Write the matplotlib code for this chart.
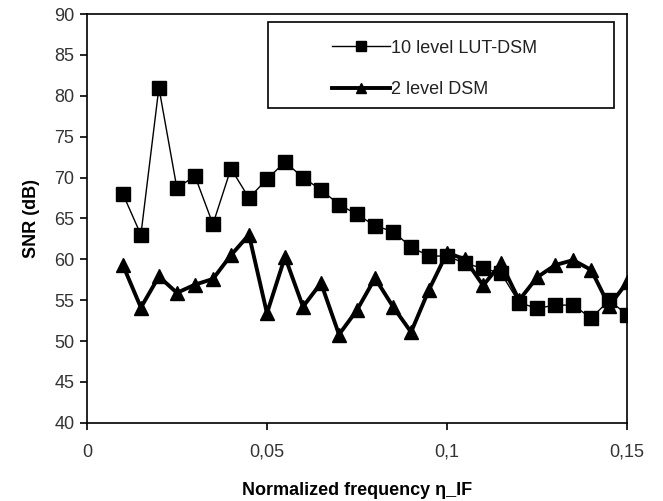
import matplotlib
matplotlib.use("Agg")
import matplotlib.pyplot as plt
from matplotlib.ticker import FuncFormatter, MultipleLocator
from matplotlib.patches import Rectangle

plt.rcParams['font.family'] = ['Liberation Sans', 'DejaVu Sans']

freq = [0.010, 0.015, 0.020, 0.025, 0.030, 0.035, 0.040, 0.045, 0.050, 0.055,
        0.060, 0.065, 0.070, 0.075, 0.080, 0.085, 0.090, 0.095, 0.100, 0.105,
        0.110, 0.115, 0.120, 0.125, 0.130, 0.135, 0.140, 0.145, 0.150]
snr_lut = [68.0, 63.0, 81.0, 68.7, 70.2, 64.3, 71.1, 67.5, 69.8, 71.9,
           70.0, 68.5, 66.7, 65.5, 64.1, 63.4, 61.5, 60.4, 60.4, 59.5,
           58.9, 58.3, 54.7, 54.0, 54.4, 54.4, 52.8, 55.0, 53.2]
snr_2lvl = [59.3, 54.1, 57.9, 55.9, 56.9, 57.6, 60.5, 63.0, 53.4, 60.3,
            54.2, 57.1, 50.8, 53.8, 57.7, 54.2, 51.1, 56.3, 60.8, 60.0,
            56.8, 59.5, 55.0, 57.8, 59.3, 59.9, 58.7, 54.3, 57.2]
label_lut = "10 level LUT-DSM"
label_2lvl = "2 level DSM"

fig = plt.figure(figsize=(6.63, 5.01), dpi=100)
ax = fig.add_axes([0.131, 0.156, 0.815, 0.816])

ax.plot(freq, snr_lut, color='black', lw=1.0, marker='s', ms=9.5,
        label=label_lut)
ax.plot(freq, snr_2lvl, color='black', lw=2.8, marker='^', ms=10.5,
        label=label_2lvl)

ax.set_xlim(0, 0.15)
ax.set_ylim(40, 90)
ax.xaxis.set_major_locator(MultipleLocator(0.05))
ax.yaxis.set_major_locator(MultipleLocator(5))
ax.xaxis.set_major_formatter(FuncFormatter(
    lambda v, p: ('%g' % round(v, 4)).replace('.', ',')))

ax.tick_params(axis='both', direction='out', length=5, width=1.2,
               labelsize=13, colors='black', labelcolor='#333333')
ax.tick_params(axis='x', pad=10)
ax.tick_params(axis='y', pad=4)
for s in ax.spines.values():
    s.set_linewidth(1.2)

ax.set_xlabel('Normalized frequency η_IF', fontsize=13, fontweight='bold',
              labelpad=15)
ax.set_ylabel('SNR (dB)', fontsize=13, fontweight='bold', labelpad=10)

# legend frame
ax.add_patch(Rectangle((0.335, 0.770), 0.641, 0.210, transform=ax.transAxes,
                       fill=False, edgecolor='black', lw=1.2, zorder=5))
leg = ax.legend(loc='upper left', bbox_to_anchor=(0.44, 0.955),
                fontsize=13, frameon=False, handlelength=3.2,
                handletextpad=0.1, borderpad=0.4, labelspacing=1.35,
                markerscale=0.7, borderaxespad=0.0)
for t in leg.get_texts():
    t.set_color('#222222')

fig.savefig('out.png', dpi=100, facecolor='white')
